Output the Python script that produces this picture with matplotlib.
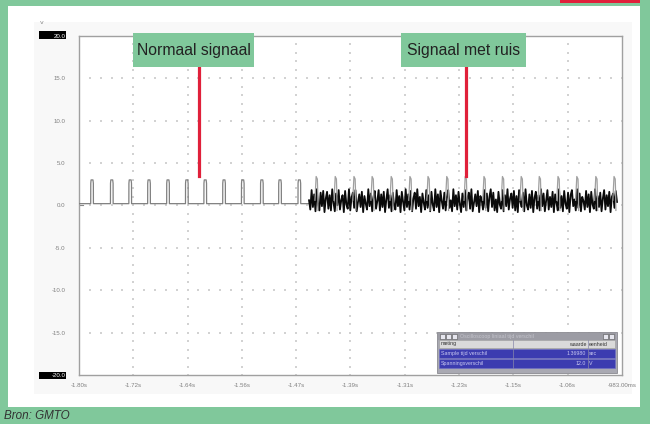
import numpy as np
import matplotlib
matplotlib.use('Agg')
import matplotlib.pyplot as plt
from matplotlib.patches import Rectangle
from matplotlib.lines import Line2D

# ---------------- data ----------------
x_ticks = [-1.80, -1.7183, -1.6366, -1.5549, -1.4732, -1.3915, -1.3098, -1.2281, -1.1464, -1.0647, -0.983]
x_tick_labels = ['-1.80s', '-1.72s', '-1.64s', '-1.56s', '-1.47s', '-1.39s', '-1.31s',
                 '-1.23s', '-1.15s', '-1.06s', '-983.00ms']
y_ticks = [-20, -15, -10, -5, 0, 5, 10, 15, 20]
y_tick_labels = ['-20.0', '-15.0', '-10.0', '-5.0', '0.0', '5.0', '10.0', '15.0', '20.0']

pulse_t_normal = [-1.7802, -1.7505, -1.7228, -1.6945, -1.6659, -1.6376, -1.6099,
                  -1.5816, -1.5534, -1.5247, -1.4974, -1.4683]
pulse_t_noisy = [-1.4420, -1.4133, -1.3851, -1.3578, -1.3291, -1.3009, -1.2737, -1.2455,
                 -1.2177, -1.1895, -1.1617, -1.1335, -1.1063, -1.0781, -1.0498, -1.0212, -0.9938]
baseline_v = 0.2
pulse_top_normal = 3.0
pulse_top_noisy = 3.4
noise_start, noise_end = -1.4539, -0.9905
noise_v = [
    0.6, -0.5, 1.8, -0.2, 1.3, -0.7, 1.9, 0.2, -0.6, 1.5, -0.1, 1.7, -0.8, 0.8, 1.6, -0.4, 1.2, -0.6, 1.9, 0.3,
    -0.7, 1.4, 0.0, 1.8, -0.5, 0.6, 1.2, -0.8, 1.7, 0.1, -0.4, 1.9, -0.6, 0.9, 1.5, -0.3, 1.8, -0.7, 0.4, 1.3,
    -0.2, 1.6, -0.8, 1.1, 0.2, -0.5, 1.9, -0.1, 1.4, -0.7, 1.0, 1.7, -0.4, 0.5, 1.8, -0.6, 1.3, -0.2, 1.6, -0.8,
    0.7, 1.9, -0.3, 1.2, -0.7, 1.5, 0.0, -0.5, 1.8, -0.1, 1.1, -0.8, 1.6, 0.4, -0.6, 1.9, -0.2, 1.3, -0.5, 1.7,
    -0.7, 0.8, 1.5, -0.4, 1.9, -0.1, 1.0, -0.8, 1.4, 0.3, -0.5, 1.8, -0.3, 1.2, -0.7, 1.6, 0.1, -0.6, 1.9, -0.2,
    1.3, -0.8, 1.7, 0.5, -0.4, 1.5, -0.6, 1.0, 1.8, -0.3, 0.6, -0.7, 1.9, -0.1, 1.2, -0.5, 1.6, 0.2, -0.8, 1.4,
    -0.2, 1.8, -0.6, 0.9, 1.5, -0.4, 1.9, -0.7, 0.3, 1.3, -0.1, 1.7, -0.8, 1.1, 0.6, -0.5, 1.8, -0.3, 1.4, -0.7,
    1.0, 1.9, -0.2, 1.5, -0.6, 0.7, -0.8, 1.6, 0.1, -0.4, 1.8, -0.7, 1.2, -0.1, 1.9, -0.5, 0.8, 1.4, -0.3, 1.7,
    -0.6, 1.1, -0.8, 1.8, 0.4, -0.2, 1.5, -0.7, 1.9, 0.0, -0.5, 1.3, -0.3, 1.7, -0.8, 0.9, 1.6, -0.4, 1.2, -0.6,
    1.9, -0.1, 1.4, -0.7, 0.6, 1.8, -0.5, 1.0, -0.2, 1.6, -0.8, 1.3, 0.3, -0.6, 1.9, -0.3, 1.1, -0.7, 1.7, 0.2,
    -0.4, 1.5, -0.8, 1.2, 1.8, -0.1, 0.7, -0.6, 1.9, -0.3, 1.4, -0.7, 1.0, 0.5, -0.5, 1.7, -0.2, 1.3, -0.8, 1.6,
    0.1, -0.4, 1.9, -0.6, 1.1, -0.2, 1.5, -0.7, 0.8, 1.8, -0.5, 1.2, -0.1, 1.6, -0.8, 1.0, 1.4, -0.3, 1.7, 0.4,
]

label_normal = 'Normaal signaal'
label_noisy = 'Signaal met ruis'
table_header = ['meting', 'waarde', 'eenheid']
table_rows = [['Sample tijd verschil', '1.36980', 'sec'],
              ['Spanningsverschil', '12.0', 'V']]
table_title = 'Oscilloscoop liniaal tijd verschil'
source = 'Bron: GMTO'

# ---------------- styling ----------------
W, H = 650, 424
GREEN = '#80c89b'
FONT = ['Liberation Sans', 'DejaVu Sans']

fig = plt.figure(figsize=(W / 100, H / 100), dpi=100)
fig.patch.set_facecolor(GREEN)


def fx(x):
    return x / W


def fy(y):
    return 1 - y / H


def frect(x0, y0, x1, y1, **kw):
    r = Rectangle((fx(x0), fy(y1)), (x1 - x0) / W, (y1 - y0) / H,
                  transform=fig.transFigure, **kw)
    fig.patches.append(r)
    return r


# white panel and faint scope background
frect(8, 6, 640, 407, facecolor='white', edgecolor='none', zorder=-5)
frect(34, 22, 632, 394, facecolor='#f8f8f8', edgecolor='none', zorder=-4)
# black boxes for the +/-20 labels
frect(39, 31, 66, 38.5, facecolor='black', edgecolor='none', zorder=-3)
frect(39, 371.5, 66, 379, facecolor='black', edgecolor='none', zorder=-3)

ax = fig.add_axes([fx(79), fy(375), (622 - 79) / W, (375 - 35.7) / H])
ax.set_zorder(1)
ax.set_facecolor('white')
ax.set_xlim(x_ticks[0], x_ticks[-1])
ax.set_ylim(-20, 20)
for s in ax.spines.values():
    s.set_color('#a0a0a0')
    s.set_linewidth(1.0)

ax.set_xticks(x_ticks)
ax.set_xticklabels(x_tick_labels, fontsize=4.4, color='#808080', family=FONT)
ax.set_yticks(y_ticks)
ax.set_yticklabels(y_tick_labels, fontsize=4.4, color='#808080', family=FONT)
ax.tick_params(axis='both', length=0)
ax.tick_params(axis='x', pad=6)
ax.tick_params(axis='y', pad=10)
for lbl in ax.get_yticklabels():
    if lbl.get_text() in ('20.0', '-20.0'):
        lbl.set_color('white')

fig.text(fx(42), fy(22), 'v', fontsize=4.5, color='#888888', ha='center', va='center')

# dotted grid
x_minor = np.linspace(x_ticks[0], x_ticks[-1], 51)
y_minor = np.arange(-20, 21, 1)
for xv in x_ticks[1:-1]:
    ax.scatter(np.full(len(y_minor), xv), y_minor, s=0.7, marker='s', color='#d2d2d2',
               linewidths=0, zorder=1)
for yv in y_ticks[1:-1]:
    ax.scatter(x_minor, np.full(len(x_minor), yv), s=0.7, marker='s', color='#d2d2d2',
               linewidths=0, zorder=1)
ax.plot([x_ticks[0], x_ticks[0] + 0.006], [0, 0], color='#888888', lw=0.8, zorder=2)

# normal signal
xs = [x_ticks[0]]
ys = [baseline_v]
for t in pulse_t_normal:
    xs += [t - 0.0022, t - 0.0021, t - 0.0016, t + 0.0012, t + 0.0018, t + 0.0019]
    ys += [baseline_v, pulse_top_normal - 0.4, pulse_top_normal, pulse_top_normal,
           pulse_top_normal - 0.4, baseline_v]
xs.append(noise_start)
ys.append(baseline_v)
ax.plot(xs, ys, color='#808080', lw=0.9, zorder=3)

# noisy signal
noise_t = np.linspace(noise_start, noise_end, len(noise_v))
ax.plot(noise_t, noise_v, color='#0a0a0a', lw=1.3, zorder=3)
for t in pulse_t_noisy:
    ax.plot([t - 0.0030, t - 0.0012, t + 0.0006, t + 0.0012, t + 0.0016],
            [0.6, pulse_top_noisy, pulse_top_noisy - 0.3, 1.5, -0.6],
            color='#a0a0a0', lw=0.9, zorder=4)

# labels with red pointer lines
for (x0, x1, xl, txt) in [(133, 254, 199, label_normal), (401, 526, 465.5, label_noisy)]:
    frect(x0, 33, x1, 67, facecolor=GREEN, edgecolor='none', zorder=5)
    fig.text(fx((x0 + x1) / 2), fy(50), txt, fontsize=11.3, color='#222222',
             ha='center', va='center', family=FONT, zorder=6)
    fig.add_artist(Line2D([fx(xl), fx(xl)], [fy(67), fy(176)], color='#e0203a', lw=2.3,
                          zorder=5))

# scope measurement window
frect(437, 332, 617, 373, facecolor='#a9a9b2', edgecolor='#8a8a90', lw=0.6, zorder=5)
frect(438, 333, 616, 340, facecolor='#9c9ca4', edgecolor='none', zorder=6)
for xi in (440, 446, 452):
    frect(xi, 334, xi + 5, 339, facecolor='#e6e6ee', edgecolor='#555555', lw=0.4, zorder=7)
for xi in (603, 609):
    frect(xi, 334, xi + 5, 339, facecolor='#e6e6ee', edgecolor='#555555', lw=0.4, zorder=7)
fig.text(fx(460), fy(336.5), table_title, fontsize=3.8, color='#c4c4cc', ha='left',
         va='center', family=FONT, zorder=7)
frect(439, 340, 615, 348, facecolor='#dadada', edgecolor='#9a9a9a', lw=0.4, zorder=6)
fig.text(fx(441), fy(344), table_header[0], fontsize=3.8, color='#333333', ha='left',
         va='center', family=FONT, zorder=7)
fig.text(fx(586), fy(344), table_header[1], fontsize=3.8, color='#333333', ha='right',
         va='center', family=FONT, zorder=7)
fig.text(fx(589), fy(344), table_header[2], fontsize=3.8, color='#333333', ha='left',
         va='center', family=FONT, zorder=7)
for i, row in enumerate(table_rows):
    y0 = 348.5 + i * 10
    frect(439, y0, 615, y0 + 9.5, facecolor='#3c3cb0', edgecolor='#7070c8', lw=0.4, zorder=6)
    fig.text(fx(441), fy(y0 + 4.8), row[0], fontsize=3.8, color='#c8c8f0', ha='left',
             va='center', family=FONT, zorder=7)
    fig.text(fx(586), fy(y0 + 4.8), row[1], fontsize=3.8, color='#c8c8f0', ha='right',
             va='center', family=FONT, zorder=7)
    fig.text(fx(589), fy(y0 + 4.8), row[2], fontsize=3.8, color='#c8c8f0', ha='left',
             va='center', family=FONT, zorder=7)
for xs_ in (513, 587.5):
    fig.add_artist(Line2D([fx(xs_), fx(xs_)], [fy(340), fy(368)], color='#8888aa', lw=0.5,
                          zorder=7))

# red mark at top right
frect(560, 0, 640, 3, facecolor='#e0203a', edgecolor='none', zorder=1)

fig.text(fx(4), fy(416), source, fontsize=8.4, color='#333333', ha='left', va='center',
         style='italic', family=FONT)

fig.savefig('out.png', dpi=100, facecolor=fig.get_facecolor())
